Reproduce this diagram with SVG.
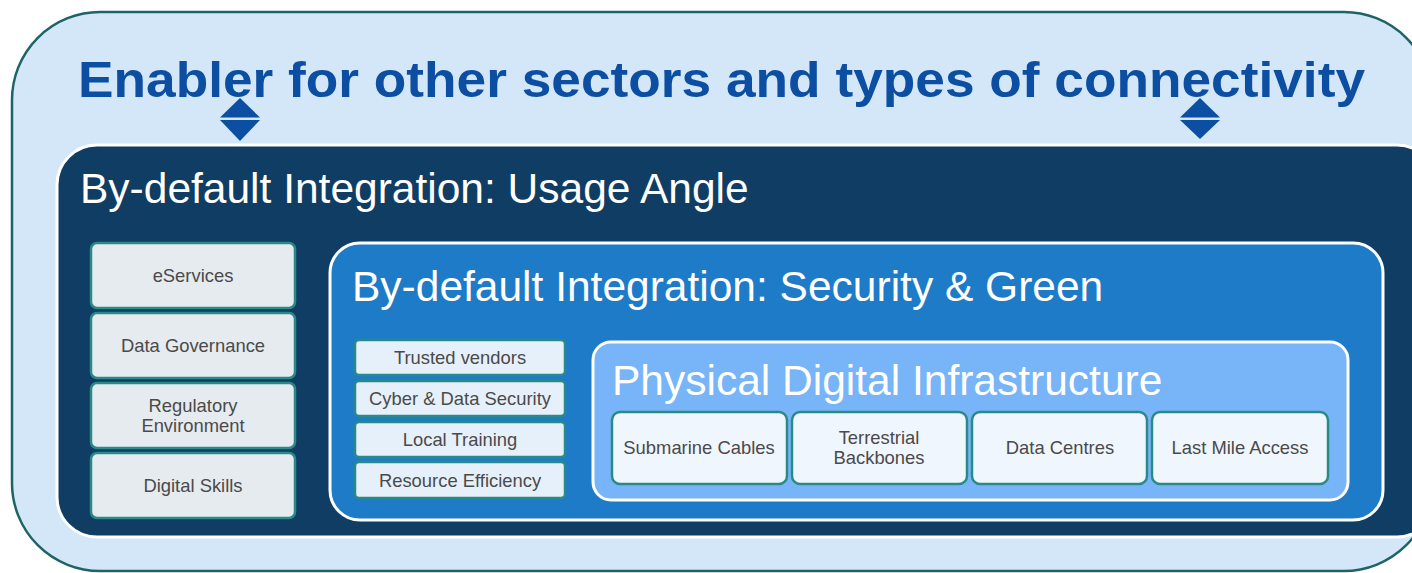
<svg xmlns="http://www.w3.org/2000/svg" width="1412" height="573" viewBox="0 0 1412 573">
<style>
.t{font-family:"Liberation Sans",Arial,sans-serif}
.h{fill:#ffffff;font-size:42.5px}
.lb{fill:#e6ebf0;stroke:#2a8a88;stroke-width:2.5}
.mb{fill:#e6f0fa;stroke:#2a8a88;stroke-width:2.5}
.ib{fill:#f0f6fe;stroke:#2a8a88;stroke-width:2.5}
.s{fill:#4a4a4a;font-size:18.4px;text-anchor:middle}
.ar{fill:#0b4ea2}
</style>
<rect width="1412" height="573" fill="#ffffff"/>
<g id="outer">
<rect x="12" y="12" width="1420" height="559" rx="88" fill="#d3e7f8" stroke="#1e6466" stroke-width="2.5"/>
<text class="t" x="78" y="97" font-size="50" font-weight="bold" fill="#0b4ea2" textLength="1287" lengthAdjust="spacingAndGlyphs">Enabler for other sectors and types of connectivity</text>
</g>
<g id="usage">
<rect x="57" y="145" width="1380" height="392" rx="40" fill="#0f3d63" stroke="#ffffff" stroke-width="3"/>
<text class="t h" x="80" y="203">By-default Integration: Usage Angle</text>
</g>
<g id="eservices"><rect class="lb" x="91" y="243" width="204" height="65" rx="6"/><text class="t s" x="193" y="282">eServices</text></g>
<g id="datagov"><rect class="lb" x="91" y="313" width="204" height="65" rx="6"/><text class="t s" x="193" y="352">Data Governance</text></g>
<g id="regulatory"><rect class="lb" x="91" y="383" width="204" height="65" rx="6"/><text class="t s" x="193" y="412">Regulatory</text><text class="t s" x="193" y="432">Environment</text></g>
<g id="skills"><rect class="lb" x="91" y="453" width="204" height="65" rx="6"/><text class="t s" x="193" y="492">Digital Skills</text></g>
<g id="security">
<rect x="330" y="243" width="1053" height="277" rx="30" fill="#1e7bc8" stroke="#ffffff" stroke-width="3"/>
<text class="t h" x="352" y="301">By-default Integration: Security &amp; Green</text>
</g>
<g id="vendors"><rect class="mb" x="355" y="340" width="210" height="35" rx="4"/><text class="t s" x="460" y="364">Trusted vendors</text></g>
<g id="cyber"><rect class="mb" x="355" y="381" width="210" height="35" rx="4"/><text class="t s" x="460" y="405">Cyber &amp; Data Security</text></g>
<g id="training"><rect class="mb" x="355" y="422" width="210" height="35" rx="4"/><text class="t s" x="460" y="446">Local Training</text></g>
<g id="efficiency"><rect class="mb" x="355" y="462" width="210" height="36" rx="4"/><text class="t s" x="460" y="487">Resource Efficiency</text></g>
<g id="physical">
<rect x="593" y="342" width="755" height="158" rx="18" fill="#78b4f8" stroke="#ffffff" stroke-width="3"/>
<text class="t h" x="612" y="395">Physical Digital Infrastructure</text>
</g>
<g id="submarine"><rect class="ib" x="612" y="412" width="175" height="72" rx="8"/><text class="t s" x="699" y="454">Submarine Cables</text></g>
<g id="terrestrial"><rect class="ib" x="792" y="412" width="175" height="72" rx="8"/><text class="t s" x="879" y="444">Terrestrial</text><text class="t s" x="879" y="464">Backbones</text></g>
<g id="datacentres"><rect class="ib" x="972" y="412" width="175" height="72" rx="8"/><text class="t s" x="1060" y="454">Data Centres</text></g>
<g id="lastmile"><rect class="ib" x="1152" y="412" width="176" height="72" rx="8"/><text class="t s" x="1240" y="454">Last Mile Access</text></g>
<g id="connectors">
<polygon class="ar" points="240,98 260,117.5 220,117.5"/>
<polygon class="ar" points="220,120 260,120 240,141"/>
<polygon class="ar" points="1200,98 1220,117.5 1180,117.5"/>
<polygon class="ar" points="1180,120 1220,120 1200,139"/>
</g>
</svg>
